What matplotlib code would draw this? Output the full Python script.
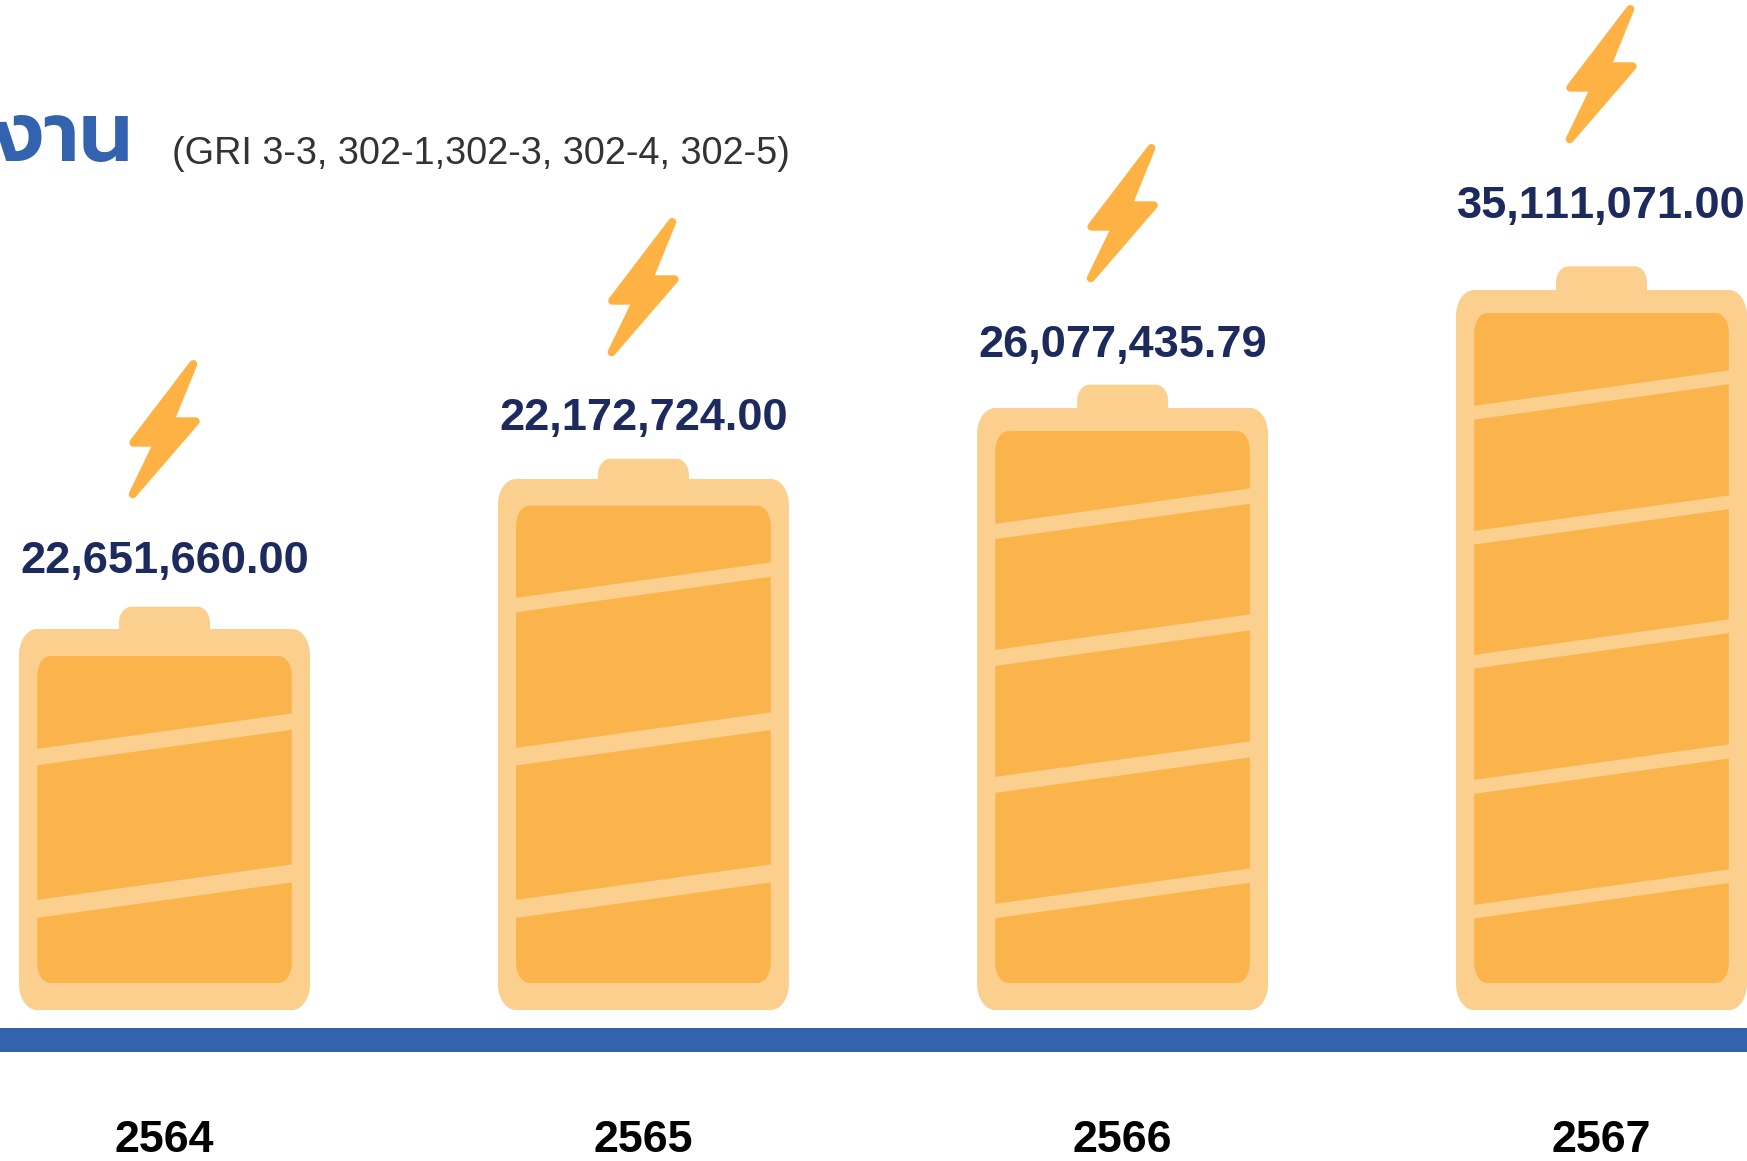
import matplotlib
matplotlib.use("Agg")
import matplotlib.pyplot as plt
from matplotlib.path import Path
from matplotlib.patches import PathPatch, Polygon

# ---- data ----
years = ["2564", "2565", "2566", "2567"]
energy_values = [22651660.00, 22172724.00, 26077435.79, 35111071.00]
centers = [164.5, 643.4, 1122.6, 1601.5]
battery_heights = [381, 531, 602, 720]          # drawn height above the base, not proportional to values
cap_heights = [403.3, 551.3, 625.3, 743.7]
inner_top_gaps = [27, 26.7, 23, 23]
band_left_upper = [[261, 110], [412, 262, 110], [486, 360, 233, 106], [604, 479, 355, 230, 105]]
band_thickness = [[16.4, 18], [14.4, 17.6, 18], [15.3, 16, 16, 14.3], [13.8, 13.7, 13.7, 14, 13.6]]
value_label_heights = [437, 580, 653, 792]      # baseline height above base
bolt_top_heights = [650, 792, 866, 1005]
title_thai = "พลังงาน"
subtitle = "(GRI 3-3, 302-1,302-3, 302-4, 302-5)"

OUTER = "#FBCF8E"
INNER = "#FBB44C"
BOLT_C = "#FDB243"
BLUE = "#3363AE"
NAVY = "#1C2A5E"

W, H = 1747, 1161
BASE = 1010.0
plt.rcParams["font.family"] = ["Liberation Sans", "DejaVu Sans"]
plt.rcParams["text.kerning_factor"] = 20   # reference has no kerning between digits

fig = plt.figure(figsize=(W / 100, H / 100), dpi=100, facecolor="white")
ax = fig.add_axes([0, 0, 1, 1])
ax.set_xlim(0, W)
ax.set_ylim(BASE - H, BASE)   # y = height above battery base in pixels
ax.axis("off")


def round_rect(x0, x1, y0, y1, rx, ry, square_bottom=False):
    k = 0.5523
    verts, codes = [], []
    if square_bottom:
        verts += [(x0, y0), (x1, y0)]
        codes += [Path.MOVETO, Path.LINETO]
    else:
        verts += [(x0 + rx, y0), (x1 - rx, y0), (x1 - rx + k * rx, y0), (x1, y0 + ry - k * ry), (x1, y0 + ry)]
        codes += [Path.MOVETO, Path.LINETO, Path.CURVE4, Path.CURVE4, Path.CURVE4]
    verts += [(x1, y1 - ry), (x1, y1 - ry + k * ry), (x1 - rx + k * rx, y1), (x1 - rx, y1)]
    codes += [Path.LINETO, Path.CURVE4, Path.CURVE4, Path.CURVE4]
    verts += [(x0 + rx, y1), (x0 + rx - k * rx, y1), (x0, y1 - ry + k * ry), (x0, y1 - ry)]
    codes += [Path.LINETO, Path.CURVE4, Path.CURVE4, Path.CURVE4]
    if square_bottom:
        verts += [(x0, y0)]
        codes += [Path.CLOSEPOLY]
    else:
        verts += [(x0, y0 + ry), (x0, y0 + ry - k * ry), (x0 + rx - k * rx, y0), (x0 + rx, y0), (x0 + rx, y0)]
        codes += [Path.LINETO, Path.CURVE4, Path.CURVE4, Path.CURVE4, Path.CLOSEPOLY]
    return Path(verts, codes)


# baseline rule
ax.fill_between([0, W], BASE - 1052, BASE - 1028, color=BLUE, lw=0)

BOLT = [(28.8, 4), (5.5, 61.3), (31.2, 61.3), (-31.8, 134.3), (-6.8, 82.7), (-31.2, 82.7)]
RISE = 35.7

for i, cx in enumerate(centers):
    h = battery_heights[i]
    # cap
    ax.add_patch(PathPatch(round_rect(cx - 45.5, cx + 45.5, h - 5, cap_heights[i], 12.5, 16, square_bottom=True),
                           fc=OUTER, ec="none", lw=0))
    # shell
    ax.add_patch(PathPatch(round_rect(cx - 145.5, cx + 145.5, 0, h, 18, 26), fc=OUTER, ec="none", lw=0))
    # inner
    xl, xr = cx - 127.3, cx + 127.3
    ax.add_patch(PathPatch(round_rect(xl, xr, 27, h - inner_top_gaps[i], 13, 20), fc=INNER, ec="none", lw=0))
    # slanted bands
    for up, th in zip(band_left_upper[i], band_thickness[i]):
        ax.add_patch(Polygon([(xl - 1, up), (xr + 1, up + RISE), (xr + 1, up + RISE - th), (xl - 1, up - th)],
                             closed=True, fc=OUTER, ec="none", lw=0))
    # value label
    ax.text(cx, value_label_heights[i], f"{energy_values[i]:,.2f}", ha="center", va="baseline",
            fontsize=32.5, fontweight="bold", color=NAVY)
    # bolt
    top = bolt_top_heights[i]
    ax.add_patch(Polygon([(cx + dx, top - dy) for dx, dy in BOLT], closed=True, fc=BOLT_C, ec=BOLT_C,
                         lw=5.76, joinstyle="round"))
    # year
    ax.text(cx, BASE - 1152.5, years[i], ha="center", va="baseline", fontsize=32.3,
            fontweight="bold", color="black")

# subtitle + clipped title
ax.text(172, BASE - 164, subtitle, ha="left", va="baseline", fontsize=27.3, color="#333333")
ax.text(132, BASE - 161, title_thai, ha="right", va="baseline", fontsize=60, fontweight=600, color=BLUE,
        family=["Prompt", "Kanit", "DejaVu Sans"], clip_on=True)

fig.savefig("out.png", dpi=100)
